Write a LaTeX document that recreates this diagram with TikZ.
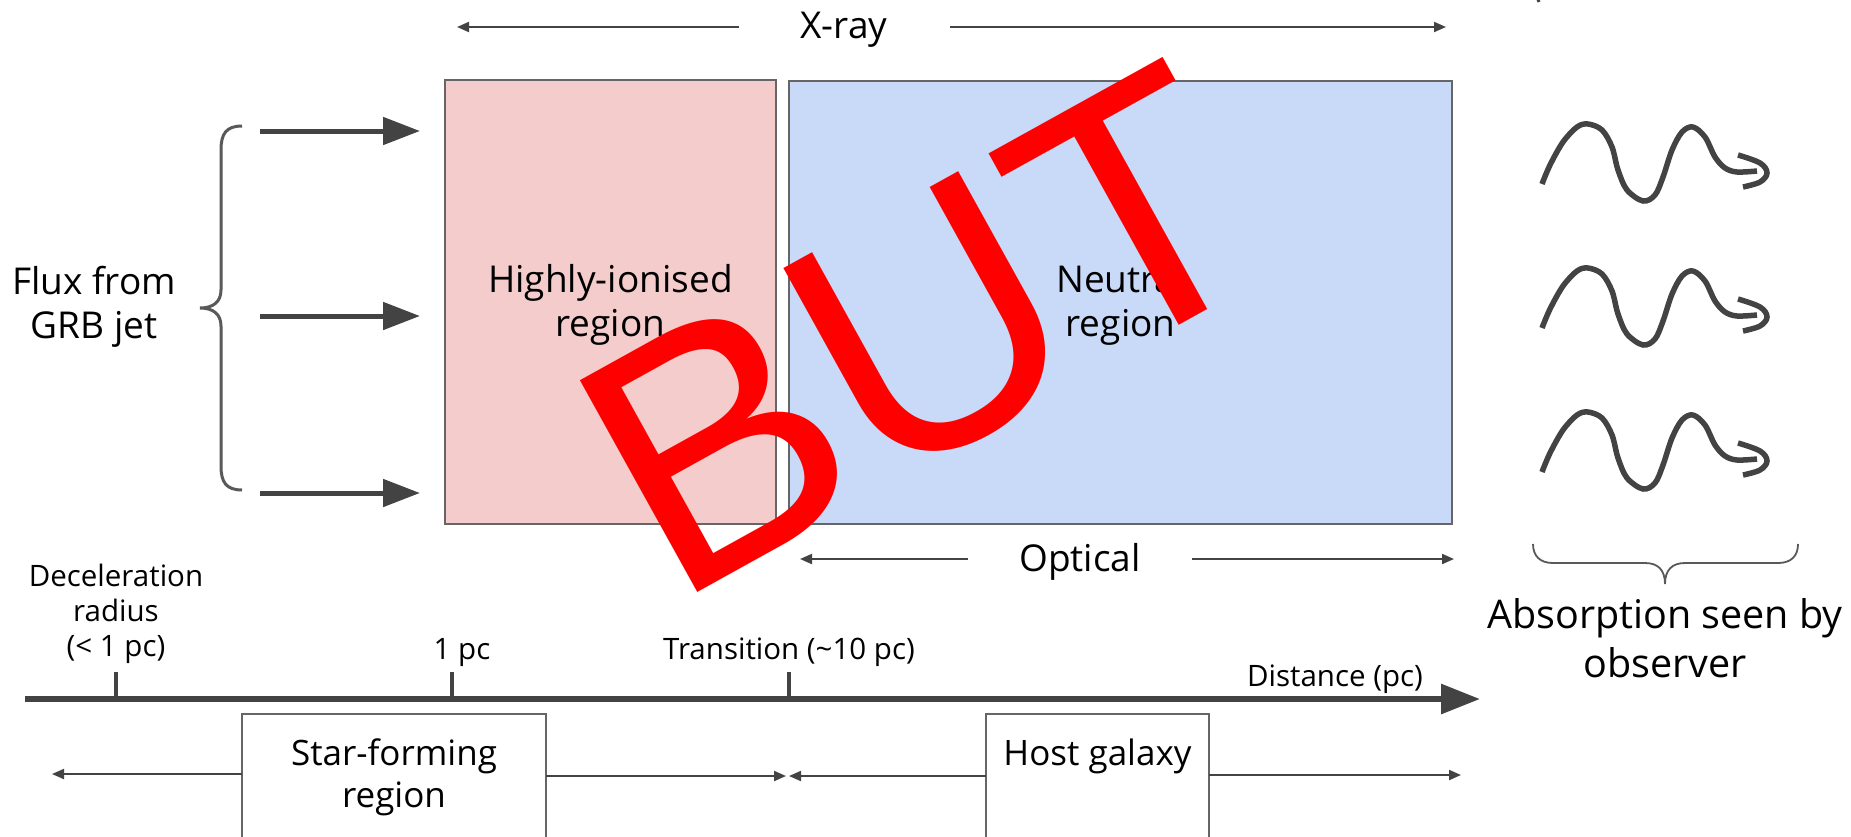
\documentclass[tikz,border=0pt]{standalone}
\usepackage{fontspec}
\setmainfont{Open Sans}
\newfontfamily\butfont{Liberation Sans}
\usetikzlibrary{arrows.meta}
\definecolor{cline}{HTML}{434343}
\definecolor{cbord}{HTML}{666666}
\definecolor{cbrace}{HTML}{595959}
\definecolor{cpink}{HTML}{F4CCCC}
\definecolor{cblue}{HTML}{C9DAF8}
\tikzset{
  bigtxt/.style={font=\fontsize{37}{44}\selectfont, inner sep=0pt, align=center},
  boxtxt/.style={font=\fontsize{35}{42}\selectfont, inner sep=0pt, align=center},
  smalltxt/.style={font=\fontsize{29.5}{35}\selectfont, inner sep=0pt, align=center},
  thinarrow/.style={draw=cline, line width=2pt, -{Triangle[length=12pt,width=10pt]}},
  fluxarrow/.style={draw=cline, line width=5pt, -{Triangle[length=37pt,width=27pt]}},
  axisarrow/.style={draw=cline, line width=6pt, -{Triangle[length=39pt,width=29pt]}},
  tickmark/.style={draw=cline, line width=4pt},
  regionbox/.style={draw=cbord, line width=2pt},
  bracepath/.style={draw=cbrace},
  wavepath/.style={draw=cline, line width=5.5pt},
  pics/wave/.style={code={
    \draw[wavepath] plot[smooth, tension=0.55] coordinates {(0,-1) (8,-20) (21,-43) (35,-58) (46,-61) (60,-55) (70,-38) (76,-15) (85,5) (101,16) (113,10) (121,-8) (130,-35) (140,-53) (151,-58) (163,-48) (173,-28) (183,-17) (195,-13) (215,-14)};
    \draw[wavepath] plot[smooth, tension=0.6] coordinates {(196,-30) (218,-22) (225,-12) (218,-3) (201,2)};
  }}
}
\begin{document}
\begin{tikzpicture}[x=1pt,y=-1pt]
\useasboundingbox (0,0) rectangle (1851,836);
\fill[white] (0,0) rectangle (1851,836);

% regions
\path[regionbox, fill=cpink] (445,80) rectangle (776,524);
\path[regionbox, fill=cblue] (789,81) rectangle (1452,524);
\node[bigtxt] (hion) at (610.5,305) {Highly-ionised\\region};
\node[bigtxt] (neut) at (1120.5,305) {Neutral\\region};

% X-ray
\node[bigtxt, anchor=base] (xray) at (844,38) {X-ray};
\coordinate (xl0) at (739,27); \coordinate (xl1) at (457,27);
\coordinate (xr0) at (950,27); \coordinate (xr1) at (1446,27);
\draw[thinarrow] (xl0) -- (xl1);
\draw[thinarrow] (xr0) -- (xr1);

% Optical
\node[bigtxt, anchor=base] (opt) at (1080,571) {Optical};
\coordinate (ol0) at (968,559); \coordinate (ol1) at (800,559);
\coordinate (or0) at (1192,559); \coordinate (or1) at (1454,559);
\draw[thinarrow] (ol0) -- (ol1);
\draw[thinarrow] (or0) -- (or1);

% Flux
\node[bigtxt] (flux) at (94,307) {Flux from\\GRB jet};
\draw[bracepath, line width=3pt] (242,126) .. controls (226,126) and (221,134) .. (221,150) -- (221,290) .. controls (221,302) and (213,308) .. (200,308) .. controls (213,308) and (221,314) .. (221,326) -- (221,466) .. controls (221,482) and (226,490) .. (242,490);
\coordinate (f1a) at (260,131); \coordinate (f1b) at (420,131);
\coordinate (f2a) at (260,316); \coordinate (f2b) at (420,316);
\coordinate (f3a) at (260,493); \coordinate (f3b) at (420,493);
\draw[fluxarrow] (f1a) -- (f1b);
\draw[fluxarrow] (f2a) -- (f2b);
\draw[fluxarrow] (f3a) -- (f3b);

% waves
\pic at (1542,185) {wave};
\pic at (1542,329) {wave};
\pic at (1542,473) {wave};
\draw[wavepath, line width=3pt] (1535,-8) -- (1539,2);

% absorption brace
\draw[bracepath, line width=1.8pt] (1533,544) .. controls (1533,556) and (1540,563) .. (1553,563) -- (1645,563) .. controls (1658,563) and (1665,570) .. (1665,584) .. controls (1665,570) and (1672,563) .. (1685,563) -- (1778,563) .. controls (1791,563) and (1798,556) .. (1798,544);
\node[font=\fontsize{39.5}{49}\selectfont, inner sep=0pt, align=center] (abs) at (1665,638) {Absorption seen by\\observer};

% distance axis
\coordinate (ax0) at (25,699); \coordinate (ax1) at (1480,699);
\draw[axisarrow] (ax0) -- (ax1);
\coordinate (t1) at (116,699); \coordinate (t2) at (452,699); \coordinate (t3) at (789,699);
\draw[tickmark] (t1) -- ++(0,-27);
\draw[tickmark] (t2) -- ++(0,-27);
\draw[tickmark] (t3) -- ++(0,-27);
\node[smalltxt] (dec) at (116,614) {Deceleration\\radius\\(< 1 pc)};
\node[smalltxt, anchor=base] (onepc) at (462,659) {1 pc};
\node[smalltxt, anchor=base] (trans) at (789,659) {Transition (\textasciitilde10 pc)};
\node[smalltxt, anchor=base] (dist) at (1335,686) {Distance (pc)};

% bottom boxes
\path[regionbox, fill=white] (242,714) rectangle (546,845);
\node[boxtxt] (sf) at (394,777) {Star-forming\\region};
\path[regionbox, fill=white] (986,714) rectangle (1209,845);
\node[boxtxt, anchor=base] (host) at (1097.5,765) {Host galaxy};
\coordinate (sfl0) at (242,774); \coordinate (sfl1) at (52,774);
\coordinate (sfr0) at (546,776); \coordinate (sfr1) at (786,776);
\coordinate (hl0) at (986,776); \coordinate (hl1) at (789,776);
\coordinate (hr0) at (1209,775); \coordinate (hr1) at (1461,775);
\draw[thinarrow] (sfl0) -- (sfl1);
\draw[thinarrow] (sfr0) -- (sfr1);
\draw[thinarrow] (hl0) -- (hl1);
\draw[thinarrow] (hr0) -- (hr1);

% BUT
\node[rotate=29, anchor=base west, text=red, inner sep=0pt, font=\butfont\fontsize{352}{352}\selectfont] (but) at (672,607) {BUT};
\end{tikzpicture}
\end{document}
